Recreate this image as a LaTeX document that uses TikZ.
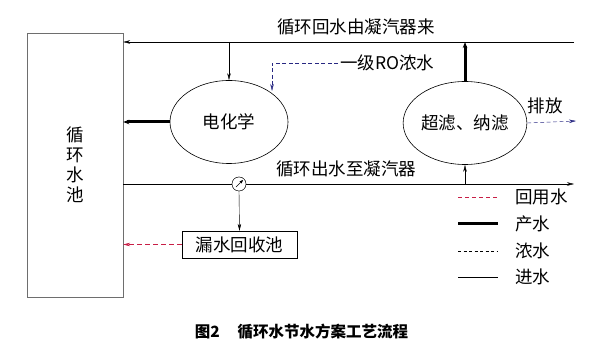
\documentclass[tikz,border=0pt]{standalone}
\usepackage{fontspec}
\setmainfont{Noto Sans CJK SC}
\usetikzlibrary{positioning, arrows.meta, calc, shapes.geometric}
\definecolor{poolgray}{RGB}{110,110,110}
\definecolor{reuse}{RGB}{200,30,70}
\definecolor{brine}{RGB}{40,40,130}

\begin{document}
\begin{tikzpicture}[
    x=1pt, y=-1pt,
    lbl/.style={font=\fontsize{17.5}{20}\selectfont, inner sep=0pt},
    unit/.style={ellipse, draw, semithick, minimum width=118pt, minimum height=83pt,
        inner sep=0pt, font=\fontsize{17.5}{20}\selectfont},
    feed/.style={-{Stealth[length=7pt, width=3.5pt]}, thin, draw=black},
    product/.style={-{Stealth[length=6pt, width=4.5pt]}, line width=3pt, draw=black},
    conc/.style={-{Stealth[length=7pt, width=3.5pt]}, dash pattern=on 4pt off 2.5pt, thin, draw=brine},
    reused/.style={-{Stealth[length=7pt, width=3.5pt]}, dash pattern=on 5pt off 3pt, thin, draw=reuse}
]

% pool and units
\node[draw=poolgray, thin, minimum width=96pt, minimum height=264pt, inner sep=0pt,
      align=center, font=\fontsize{17.5}{20}\selectfont] (pool) at (75,165)
      {循\\环\\水\\池};
\node[unit] (ech) at (229,122) {电化学};
\node[unit] (uf) at (465,123) {超滤、纳滤};
\node[draw, thin, minimum width=115pt, minimum height=27pt, inner sep=0pt,
      font=\fontsize{17.5}{20}\selectfont] (leak) at (239.5,244.5) {漏水回收池};
\node[circle, draw, thin, fill=white, minimum size=14pt, inner sep=0pt] (valve) at (239,184) {};

% free ends of the mains
\coordinate (topR) at (574,42);
\coordinate (botR) at (574,184);
\coordinate (roIn) at (338,63);
\coordinate (drain) at (576,121);

% labels
\node[lbl] (topLbl) at (356,27) {循环回水由凝汽器来};
\node[lbl] (botLbl) at (346,169) {循环出水至凝汽器};
\node[lbl, anchor=west] (roLbl) at ($(roIn)+(2,0)$) {一级RO浓水};
\node[lbl] (drainLbl) at (545,106) {排放};

% return main
\draw[feed] (topR) -- (topR -| pool.east);
\draw[feed] (ech.north |- topR) -- (ech.north);
\draw[product] (ech.west) -- (ech.west -| pool.east);
\draw[conc] (roIn) -| ($(ech.center)+(43,-31)$);

% supply main
\draw[feed] (pool.east |- botR) -- (botR);
\node[circle, draw, thin, fill=white, minimum size=14pt, inner sep=0pt] at (valve) {};
\draw[-{Stealth[length=4pt, width=3pt]}, thin] ($(valve.south west)+(2,-2)$) -- ($(valve.north east)+(-1,1)$);
\draw[feed] (valve.south) -- (leak.north);
\draw[reused] (leak.west) -- (leak.west -| pool.east);
\draw[feed] (uf.south |- botR) -- (uf.south);
\draw[product] (uf.north) -- (uf.north |- topR);
\draw[conc] (uf.east) -- (drain);

% legend
\coordinate (lgA) at (458,197);
\coordinate (lgB) at (458,224);
\coordinate (lgC) at (458,251);
\coordinate (lgD) at (458,277);
\draw[dash pattern=on 4pt off 3pt, thin, reuse] (lgA) -- ++(40,0);
\draw[line width=3pt] (lgB) -- ++(40,0);
\draw[dash pattern=on 3pt off 2.5pt, thin] (lgC) -- ++(40,0);
\draw[thin] (lgD) -- ++(40,0);
\node[lbl, anchor=west] (lgAt) at (515,197) {回用水};
\node[lbl, anchor=west] (lgBt) at (515,224) {产水};
\node[lbl, anchor=west] (lgCt) at (515,251) {浓水};
\node[lbl, anchor=west] (lgDt) at (515,277) {进水};

% caption
\node[font=\fontsize{15.5}{18}\selectfont\bfseries, inner sep=0pt] (cap) at (301.5,332)
    {图2\hspace{1.15em}循环水节水方案工艺流程};

\useasboundingbox (0,0) rectangle (599,352);
\end{tikzpicture}
\end{document}
